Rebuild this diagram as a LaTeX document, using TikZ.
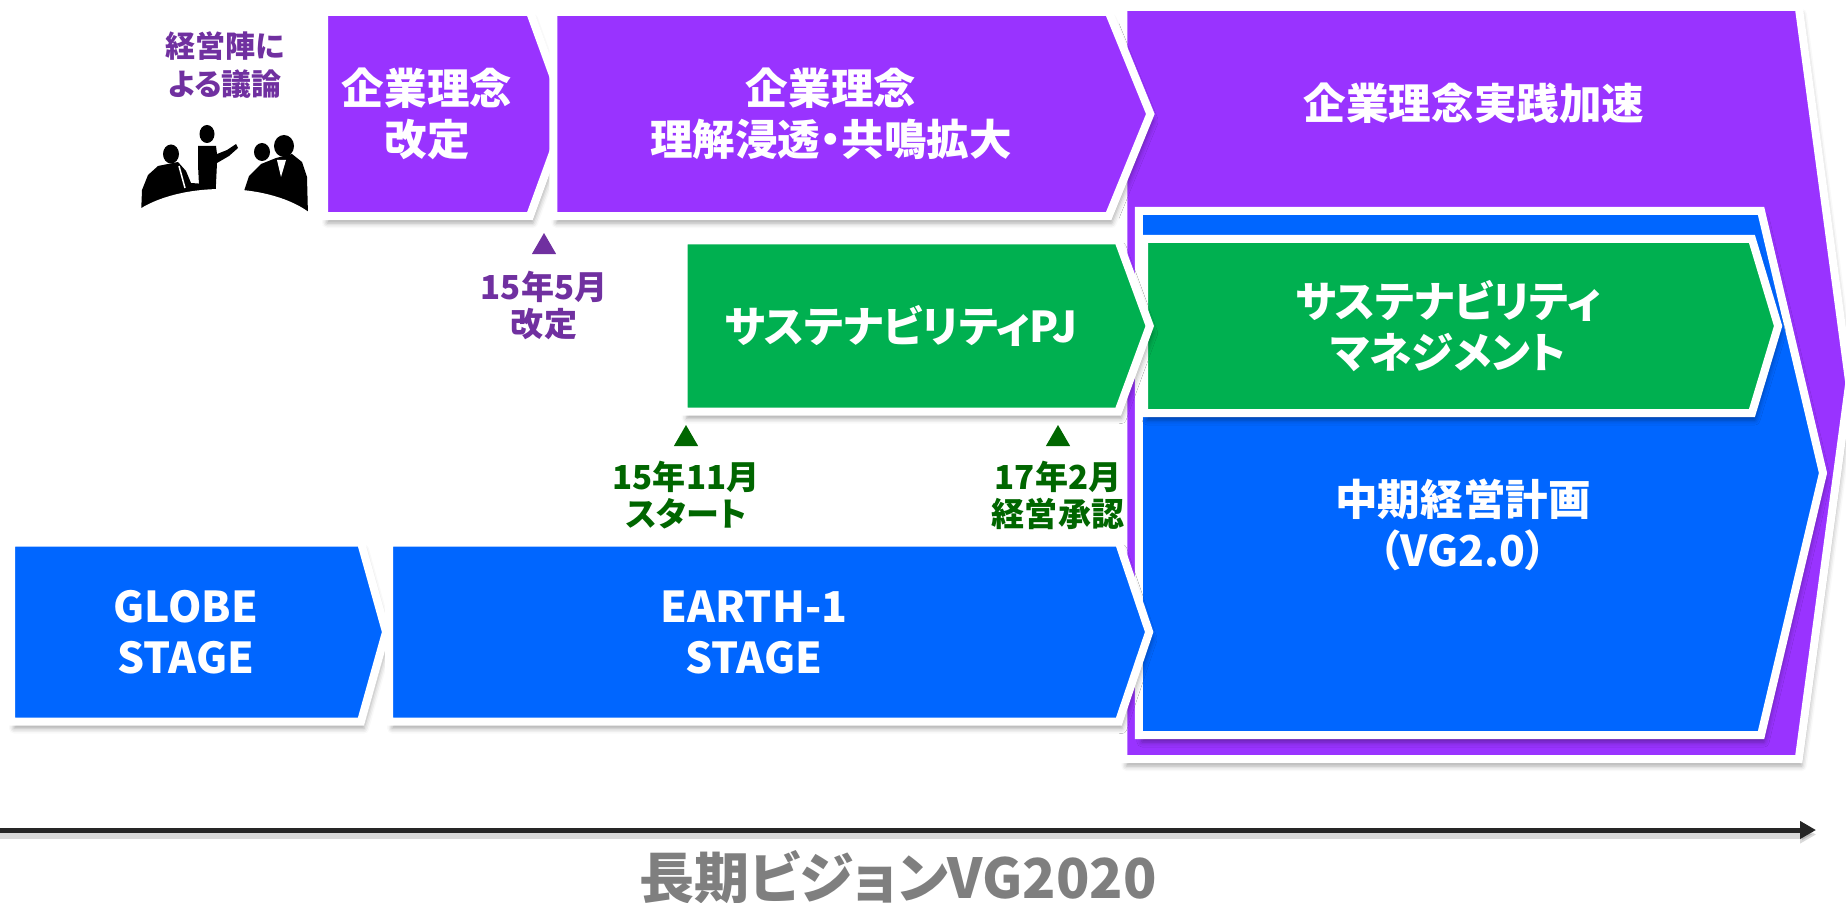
\documentclass[tikz,border=0pt]{standalone}
\usepackage{fontspec}
\setmainfont{Noto Sans CJK JP}[RawFeature=+palt]
\usetikzlibrary{shapes.symbols,shapes.geometric,positioning,arrows.meta,shadows.blur}

\definecolor{philpurple}{HTML}{9933FF}
\definecolor{stageblue}{HTML}{0066FF}
\definecolor{susgreen}{HTML}{00B050}
\definecolor{markpurple}{HTML}{7030A0}
\definecolor{markgreen}{HTML}{006600}
\definecolor{titlegray}{HTML}{7F7F7F}
\definecolor{axisblack}{HTML}{262626}

\newcommand{\boxfont}{\bfseries\fontsize{24.2pt}{29pt}\selectfont}
\newcommand{\datefont}{\bfseries\fontsize{18.8pt}{21.3pt}\selectfont}

\tikzset{%
	chevron/.style   = {shape=signal, signal to=east, draw=white, line width=1.6mm, inner sep=0pt,
	                    text=white, font=\boxfont, align=center,
	                    blur shadow={shadow xshift=0.6mm, shadow yshift=-1.4mm, shadow blur radius=1mm, shadow opacity=35}},
	boxtext/.style   = {text=white, font=\boxfont, align=center, inner sep=0pt},
	datetri/.style   = {regular polygon, regular polygon sides=3, inner sep=0pt, minimum size=5.6mm},
	datetext/.style  = {font=\datefont, align=center, inner sep=0pt} % Dates below the triangles
}

\begin{document}
\begin{tikzpicture}[x=0.2mm, y=-0.2mm]
	\useasboundingbox (0,0) rectangle (1846,902);

	% Board discussion
	\node[font=\bfseries\fontsize{17.1pt}{21.6pt}\selectfont, text=markpurple, align=center, inner sep=0pt] (board) at (225,65) {経営陣に\\よる議論};
	\fill (171,154) ellipse[x radius=1.6mm, y radius=1.9mm];
	\fill (141,215) -- (142,190) -- (148,175) -- (158,166) -- (178,162) -- (186,171) -- (191,183) -- (205,184) -- (206,215) -- cycle;
	\draw[white, line width=0.3mm] (179,166) -- (185,188);
	\fill (207,134) ellipse[x radius=1.5mm, y radius=1.8mm];
	\fill (198,146) -- (216,146) -- (217,154) -- (227,150) -- (236,144) -- (238,148) -- (229,156) -- (217,163) -- (215,205) -- (200,205) -- (198,165) -- cycle;
	\fill (262,152) ellipse[x radius=1.6mm, y radius=1.8mm];
	\fill (284,146) ellipse[x radius=2mm, y radius=2.2mm];
	\fill (241,215) -- (243,194) -- (249,176) -- (261,164) -- (276,158) -- (292,154) -- (302,162) -- (307,177) -- (308,215) -- cycle;
	\fill[white] (277,160) -- (281,177) -- (286,160) -- cycle;
	\fill[white] (222,242) ellipse[x radius=21mm, y radius=10.6mm];

	% Acceleration stage (drawn first, the others sit on it)
	\node[chevron, fill=philpurple, minimum width=145.2mm, minimum height=150.4mm, signal pointer angle=164.7] (accel) at (1461,383) {};
	\node[boxtext] (acceltext) at (1474,103) {企業理念実践加速};

	\node[chevron, fill=stageblue, minimum width=136.8mm, minimum height=104.8mm, signal pointer angle=153.4] (plan) at (1450,473) {};
	\node[boxtext] (plantext) at (1463,525) {中期経営計画\\（VG2.0）};
	\node[chevron, fill=susgreen, minimum width=126.8mm, minimum height=34.8mm, signal pointer angle=146.5] (susmgmt) at (1448,326) {サステナビリティ\\マネジメント};

	% Philosophy row
	\node[chevron, fill=philpurple, minimum width=48.6mm, minimum height=40.8mm, signal pointer angle=140] (revise) at (427,114) {企業理念\\改定};
	\node[chevron, fill=philpurple, minimum width=119.4mm, minimum height=40.8mm, signal pointer angle=135.6] (spread) at (831,114) {企業理念\\理解浸透・共鳴拡大};

	% Sustainability project
	\node[chevron, fill=susgreen, minimum width=93.2mm, minimum height=34.2mm, signal pointer angle=139.6] (suspj) at (901,326) {サステナビリティPJ};

	% Mid-term plans
	\node[chevron, fill=stageblue, minimum width=75mm, minimum height=35.8mm, signal pointer angle=148.7] (globe) at (186,632) {GLOBE\\STAGE};
	\node[chevron, fill=stageblue, minimum width=152mm, minimum height=35.8mm, signal pointer angle=142.6] (earth) at (754,632) {EARTH-1\\STAGE};

	% Milestones
	\node[datetri, fill=markpurple] (revmark) at (544,247) {};
	\node[datetext, text=markpurple, below=3.2mm of revmark] (revdate) {15年5月\\改定};
	\node[datetri, fill=markgreen] (startmark) at (686,439) {};
	\node[datetext, text=markgreen, below=2.8mm of startmark] (startdate) {15年11月\\スタート};
	\node[datetri, fill=markgreen] (approvemark) at (1058,439) {};
	\node[datetext, text=markgreen, below=2.8mm of approvemark] (approvedate) {17年2月\\経営承認};

	% Time axis
	\coordinate (axisstart) at (0,830);
	\coordinate (axisend) at (1816,830);
	\draw[axisblack, line width=1mm, -{Triangle[length=3.2mm, width=3.4mm]},
	      preaction={draw=black, opacity=0.15, line width=1.8mm, transform canvas={yshift=-0.9mm}}] (axisstart) -- (axisend);
	\node[text=titlegray, font=\bfseries\fontsize{31.3pt}{36pt}\selectfont, inner sep=0pt] (vision) at (898,877) {長期ビジョンVG2020};
\end{tikzpicture}
\end{document}
